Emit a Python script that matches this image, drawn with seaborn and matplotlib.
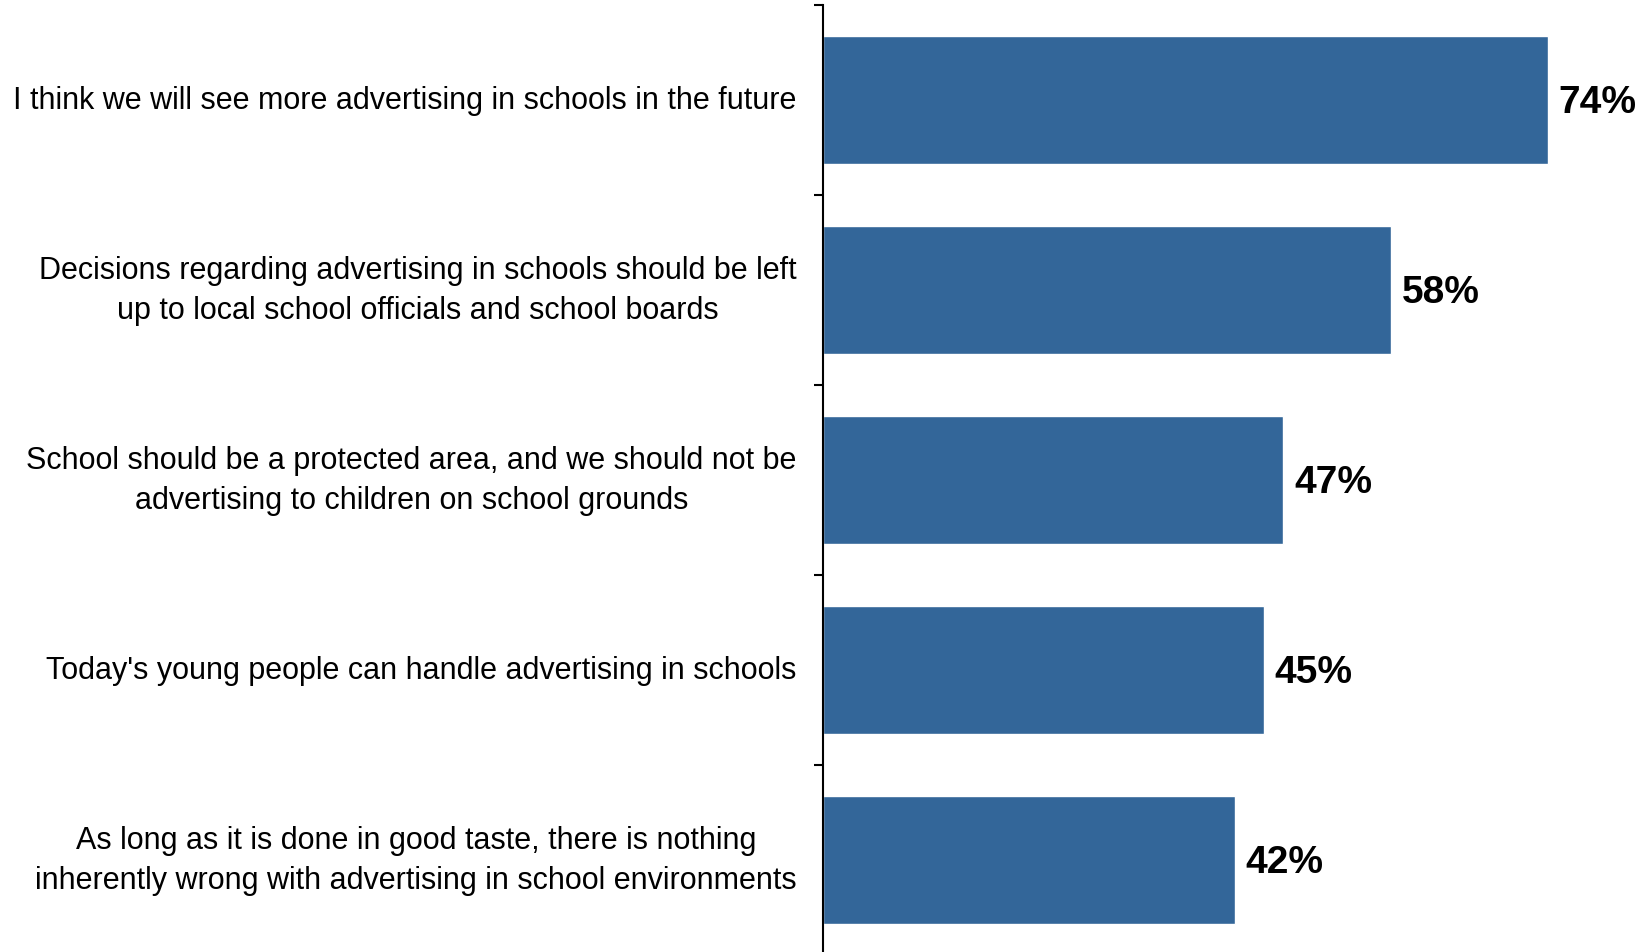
import matplotlib
matplotlib.use("Agg")
import matplotlib.pyplot as plt
import seaborn as sns
import pandas as pd
import numpy as np

# category labels (top to bottom) and percentages
statements = [
    "I think we will see more advertising in schools in the future",
    "Decisions regarding advertising in schools should be left\nup to local school officials and school boards",
    "School should be a protected area, and we should not be\nadvertising to children on school grounds",
    "Today's young people can handle advertising in schools",
    "As long as it is done in good taste, there is nothing\ninherently wrong with advertising in school environments",
]
percent = [74, 58, 47, 45, 42]

bar_color = "#336699"

sns.set_theme(style="white")
plt.rcParams['font.family'] = ['Liberation Sans', 'DejaVu Sans']

df = pd.DataFrame({'statement': statements, 'percent': percent})

fig = plt.figure(figsize=(16.46, 9.53), dpi=100)
# axes: left edge at the axis line, one category = ~190 px
ax = fig.add_axes([823 / 1646, -3 / 953, 1 - 823 / 1646, 950 / 953])

sns.barplot(data=df, x='percent', y='statement', color=bar_color,
            width=0.67, saturation=1, ax=ax, orient='h')

ax.set_xlim(0, 84)
ax.set_ylim(len(statements) - 0.5, -0.5)
ax.set_xlabel("")
ax.set_ylabel("")
ax.set_xticks([])

# labels centred on bars, ticks at category boundaries
ax.set_yticks(np.arange(len(statements)))
ax.set_yticklabels(statements, fontsize=22, multialignment='center',
                   linespacing=1.45, color='black', va='center')
ax.tick_params(axis='y', length=0, pad=19)
ax.set_yticks(np.arange(len(statements)) - 0.5, minor=True)
ax.tick_params(axis='y', which='minor', length=6.5, width=1.5, color='black', left=True)

for s in ['top', 'right', 'bottom']:
    ax.spines[s].set_visible(False)
ax.spines['left'].set_color('black')
ax.spines['left'].set_linewidth(1.5)

for i, v in enumerate(percent):
    ax.text(v + 1.1, i + 0.01, f"{v}%", va='center', ha='left',
            fontsize=28, fontweight='bold', color='black')

fig.savefig("out.png", dpi=100)
